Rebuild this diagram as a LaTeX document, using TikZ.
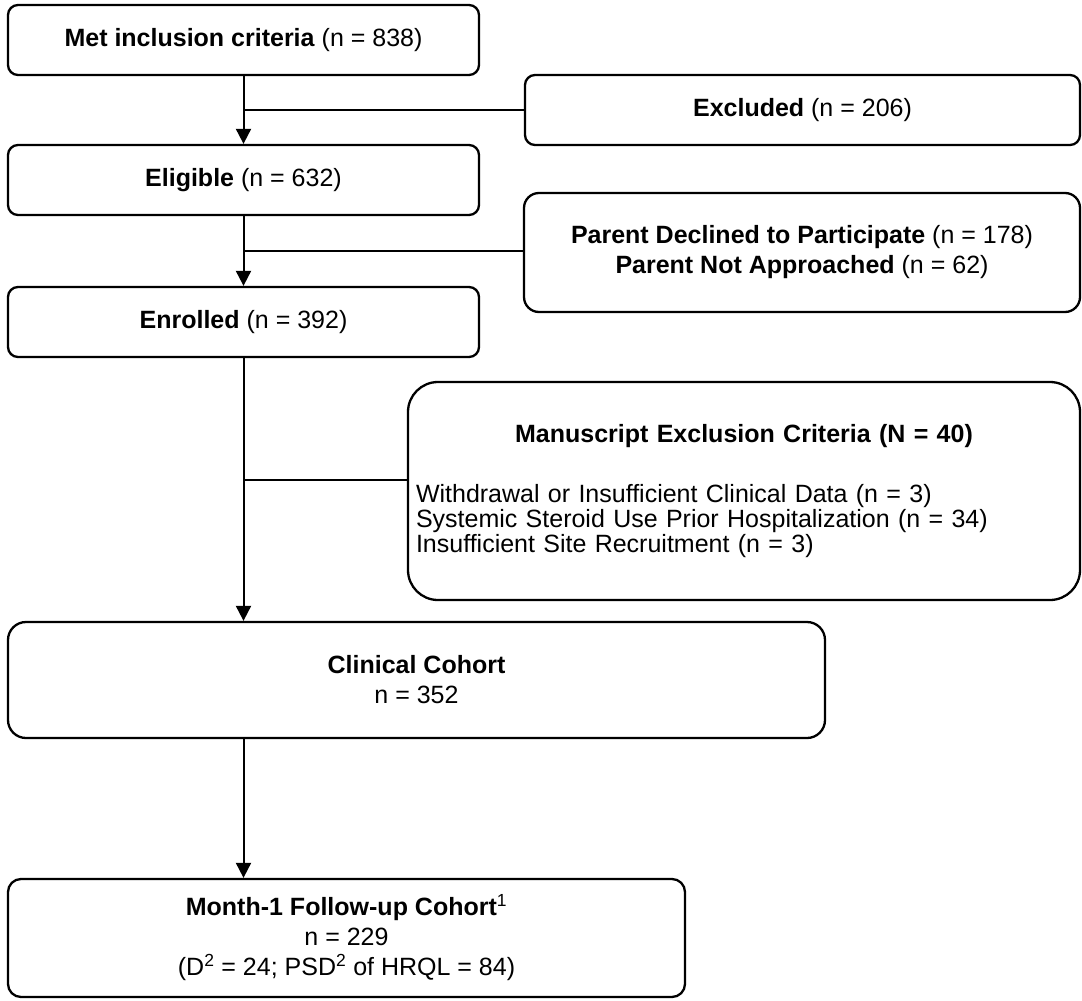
\documentclass[tikz,border=0pt]{standalone}
\usepackage{fontspec}
\setmainfont{Liberation Sans}
\usetikzlibrary{arrows.meta,calc}
\tikzset{arrow/.style={draw,-{Triangle[length=15pt,width=15pt]},line width=2pt}}
\tikzset{link/.style={draw,line width=2pt}}
\tikzset{box/.style={draw,line width=2.3pt,rounded corners=#1,align=center,inner sep=0pt}}
\tikzset{box/.default={10pt}}
\tikzset{font={\fontsize{25pt}{30pt}\selectfont}}

\begin{document}
\begin{tikzpicture}[x=1pt,y=-1pt]
    \useasboundingbox (0,0) rectangle (1082,1001);
    % left column
    \foreach \name/\ypos/\txt in {met/40/{\textbf{Met inclusion criteria} (n = 838)}, elig/180/{\textbf{Eligible} (n = 632)}, enrol/322/{\textbf{Enrolled} (n = 392)}}{
        \node[box,minimum width=471pt,minimum height=70pt] (\name) at (243.5,\ypos) {\txt};
    }
    % right column
    \node[box,minimum width=555pt,minimum height=70pt] (excl) at (802.5,110) {\textbf{Excluded} (n = 206)};
    \node[box=15pt,minimum width=556pt,minimum height=119pt] (parent) at (802,252.5) {\textbf{Parent Declined to Participate} (n = 178)\\\textbf{Parent Not Approached} (n = 62)};
    \node[box=30pt,minimum width=672pt,minimum height=218pt,align=left,text width=656pt,inner xsep=8pt] (manu) at (744,491) {\makebox[656pt][c]{\textbf{Manuscript Exclusion Criteria (N = 40)}}\\[30pt]
        Withdrawal or Insufficient Clinical Data (n = 3)\\[-5pt]
        Systemic Steroid Use Prior Hospitalization (n = 34)\\[-5pt]
        Insufficient Site Recruitment (n = 3)};
    % cohorts
    \node[box=18pt,minimum width=817pt,minimum height=116pt] (clin) at (416.5,680) {\textbf{Clinical Cohort}\\n = 352};
    \node[box=13pt,minimum width=677pt,minimum height=118pt] (month) at (346.5,938) {\textbf{Month-1 Follow-up Cohort}\textsuperscript{1}\\n = 229\\(D\textsuperscript{2} = 24; PSD\textsuperscript{2} of HRQL = 84)};

    \foreach \a/\b in {met/elig, elig/enrol}{
        \path[arrow] (\a.south) -- (\b.north);
    }
    \path[arrow] (enrol.south) -- (enrol.south |- clin.north);
    \path[arrow] (clin.south -| enrol.south) -- (month.north -| enrol.south);

    \coordinate (b1) at ($(met.south)!0.5!(elig.north)$);
    \coordinate (b2) at ($(elig.south)!0.5!(enrol.north)$);
    \coordinate (b3) at (243.5,480);
    \path[link] (b1) -- (excl.west);
    \path[link] (b2) -- (b2 -| parent.west);
    \path[link] (b3) -- (b3 -| manu.west);
\end{tikzpicture}
\end{document}
